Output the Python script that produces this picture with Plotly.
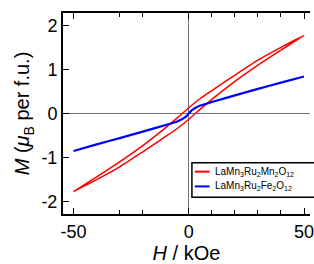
import plotly.graph_objects as go

# Red loop: LaMn3Ru2Mn2O12 (descending branch, then ascending branch)
H_red_down = [50, 40, 30, 20, 10, 5, 0, -5, -10, -20, -30, -40, -50]
M_red_down = [1.77, 1.50, 1.21, 0.87, 0.52, 0.34, 0.13, -0.10, -0.32, -0.73, -1.10, -1.44, -1.77]
H_red_up = [-50, -40, -30, -20, -10, -5, 0, 5, 10, 20, 30, 40, 50]
M_red_up = [-1.77, -1.50, -1.21, -0.87, -0.52, -0.34, -0.13, 0.10, 0.32, 0.73, 1.10, 1.44, 1.77]

# Blue: LaMn3Ru2Fe2O12
H_blue = [-50, -40, -30, -20, -10, -5, -3, -2, -1, 0, 1, 2, 3, 5, 10, 20, 30, 40, 50]
M_blue = [-0.85, -0.70, -0.56, -0.41, -0.26, -0.18, -0.13, -0.10, -0.06, 0.0, 0.06, 0.10, 0.13, 0.18, 0.26, 0.41, 0.56, 0.70, 0.84]

series_names = ["LaMn<sub>3</sub>Ru<sub>2</sub>Mn<sub>2</sub>O<sub>12</sub>",
                "LaMn<sub>3</sub>Ru<sub>2</sub>Fe<sub>2</sub>O<sub>12</sub>"]
series_colors = ["#ff0000", "#0000ff"]

x_major = [-50, 0, 50]
x_major_text = ["-50", "0", "50"]
x_minor = [-30, -20, 10, 20, 30, 40]
y_ticks = [-2, -1, 0, 1, 2]
y_tick_text = ["-2", "-1", "0", "1", "2"]

FONT = "Liberation Sans, Arial, Helvetica, sans-serif"

fig = go.Figure()
fig.add_trace(go.Scatter(x=H_red_down + H_red_up, y=M_red_down + M_red_up, mode="lines",
                         line=dict(color=series_colors[0], width=1.5, shape="spline", smoothing=0.6),
                         name=series_names[0], showlegend=False))
fig.add_trace(go.Scatter(x=H_blue, y=M_blue, mode="lines",
                         line=dict(color=series_colors[1], width=2.2, shape="spline", smoothing=0.6),
                         name=series_names[1], showlegend=False))

W, H = 314, 264
ml, mr, mt, mb = 63, 0, 13, 47
pw, ph = W - ml - mr, H - mt - mb

def px(x):
    return (x - ml) / pw

def py(y):
    return (H - mb - y) / ph

# custom legend
shapes = [dict(type="rect", xref="paper", yref="paper", x0=px(194), x1=px(340), y0=py(200), y1=py(165),
               line=dict(color="black", width=1.5), fillcolor="white", layer="above")]
annotations = []
rows = [174, 189]
for i, (nm, col) in enumerate(zip(series_names, series_colors)):
    shapes.append(dict(type="line", xref="paper", yref="paper", x0=px(197), x1=px(212),
                       y0=py(rows[i]), y1=py(rows[i]), line=dict(color=col, width=2), layer="above"))
    annotations.append(dict(xref="paper", yref="paper", x=px(215), y=py(rows[i]), text=nm,
                            showarrow=False, xanchor="left", yanchor="middle",
                            font=dict(size=10, color="black", family=FONT)))

fig.update_layout(
    width=W, height=H,
    margin=dict(l=ml, r=mr, t=mt, b=mb),
    paper_bgcolor="white", plot_bgcolor="white",
    font=dict(family=FONT, color="black"),
    shapes=shapes, annotations=annotations,
    showlegend=False,
)
fig.update_xaxes(
    range=[-54.6, 52.6], showgrid=False,
    tickmode="array", tickvals=x_major, ticktext=x_major_text,
    ticks="inside", ticklen=6, tickwidth=1.2, tickcolor="black",
    minor=dict(tickmode="array", tickvals=x_minor, ticks="inside", ticklen=4, tickwidth=1.2, tickcolor="black"),
    showline=True, linecolor="black", linewidth=2, mirror="ticks",
    zeroline=True, zerolinecolor="#707070", zerolinewidth=1.2,
    tickfont=dict(size=18, family=FONT), ticklabeloverflow="allow",
    title=dict(text="<i>H</i> / kOe", font=dict(size=20, family=FONT), standoff=8),
)
fig.update_yaxes(
    range=[-2.28, 2.28], showgrid=False,
    tickmode="array", tickvals=y_ticks, ticktext=y_tick_text,
    ticks="inside", ticklen=6, tickwidth=1.2, tickcolor="black",
    showline=True, linecolor="black", linewidth=2, mirror=False,
    zeroline=True, zerolinecolor="#707070", zerolinewidth=1.2,
    tickfont=dict(size=18, family=FONT),
    title=dict(text="<i>M</i> (<i>μ</i><sub>B</sub> per f.u.)", font=dict(size=20, family=FONT), standoff=6),
)

fig.write_html("out.html", config={"displayModeBar": False},
               post_script="document.body.style.margin='0';document.body.style.overflow='hidden';")
